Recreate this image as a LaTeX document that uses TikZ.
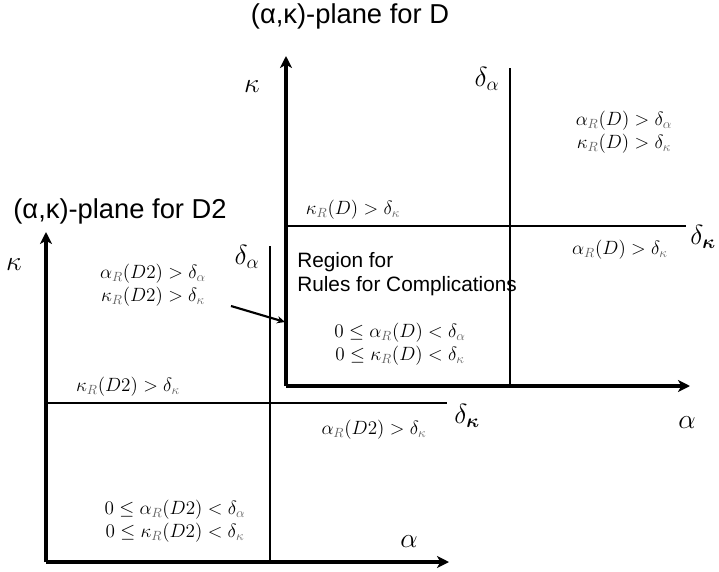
\documentclass[tikz,border=0pt]{standalone}
\usepackage[no-math]{fontspec}
\setmainfont{Liberation Sans}
\usepackage{amsmath,bm}
\usetikzlibrary{arrows.meta}
\newcommand{\gsub}[1]{\textcolor{black!60}{#1}}
\begin{document}
\begin{tikzpicture}[x=0.75pt,y=-0.75pt,
  axis/.style={line width=2.6pt,-{Stealth[length=9pt,width=9pt,inset=2.5pt]}},
  thr/.style={line width=1.7pt},
  ttl/.style={font=\fontsize{20.5}{24}\selectfont,inner sep=0pt},
  big/.style={font=\fontsize{21}{24}\selectfont,inner sep=0pt},
  lab/.style={font=\fontsize{14.3}{17}\selectfont,inner sep=0pt,align=center},
  sans/.style={font=\fontsize{15.6}{18}\selectfont,inner sep=0pt,align=left}]
\useasboundingbox (0,0) rectangle (719,572);
% plane D
\coordinate (Do) at (286,386);
\coordinate (Dy) at (286,56);
\coordinate (Dx) at (690,386);
\coordinate (Dat) at (510,68);
\coordinate (Dab) at (510,386);
\coordinate (Dkl) at (286,226);
\coordinate (Dkr) at (686,226);
\draw[thr] (Dat) -- (Dab);
\draw[thr] (Dkl) -- (Dkr);
\draw[axis] (Do) -- (Dy);
\draw[axis] (Do) -- (Dx);
% plane D2
\coordinate (Eo) at (46,562);
\coordinate (Ey) at (46,232);
\coordinate (Ex) at (449,562);
\coordinate (Eat) at (270,246);
\coordinate (Eab) at (270,562);
\coordinate (Ekl) at (46,403);
\coordinate (Ekr) at (447,403);
\draw[thr] (Eat) -- (Eab);
\draw[thr] (Ekl) -- (Ekr);
\draw[axis] (Eo) -- (Ey);
\draw[axis] (Eo) -- (Ex);
% texts plane D
\node[ttl] (tD) at (350,16) {(α,κ)-plane for D};
\node[big] (kD) at (252,87) {$\kappa$};
\node[big] (daD) at (487,79) {$\delta_\alpha$};
\node[lab] (q1) at (624,132) {$\alpha_{\gsub{R}}(D) > \delta_{\gsub{\alpha}}$\\$\kappa_{\gsub{R}}(D) > \delta_{\gsub{\kappa}}$};
\node[lab] (q2) at (353,210) {$\kappa_{\gsub{R}}(D) > \delta_{\gsub{\kappa}}$};
\node[big] (dkD) at (703,237) {$\delta_{\bm{\kappa}}$};
\node[lab] (q3) at (620,250) {$\alpha_{\gsub{R}}(D) > \delta_{\gsub{\kappa}}$};
\node[sans,anchor=west] (reg) at (297,274) {Region for\\Rules for Complications};
\node[lab] (q4) at (400,344) {$0 \le \alpha_{\gsub{R}}(D) < \delta_{\gsub{\alpha}}$\\$0 \le \kappa_{\gsub{R}}(D) < \delta_{\gsub{\kappa}}$};
\node[big] (aD) at (687,423) {$\alpha$};
% texts plane D2
\node[ttl] (tE) at (120,211) {(α,κ)-plane for D2};
\node[big] (kE) at (14,265) {$\kappa$};
\node[big] (daE) at (247,257) {$\delta_\alpha$};
\node[lab] (p1) at (153,285) {$\alpha_{\gsub{R}}(D2) > \delta_{\gsub{\alpha}}$\\$\kappa_{\gsub{R}}(D2) > \delta_{\gsub{\kappa}}$};
\node[lab] (p2) at (128,387) {$\kappa_{\gsub{R}}(D2) > \delta_{\gsub{\kappa}}$};
\node[big] (dkE) at (467,416) {$\delta_{\bm{\kappa}}$};
\node[lab] (p3) at (374,430) {$\alpha_{\gsub{R}}(D2) > \delta_{\gsub{\kappa}}$};
\node[lab] (p4) at (175,521) {$0 \le \alpha_{\gsub{R}}(D2) < \delta_{\gsub{\alpha}}$\\$0 \le \kappa_{\gsub{R}}(D2) < \delta_{\gsub{\kappa}}$};
\node[big] (aE) at (409,542) {$\alpha$};
% pointer
\coordinate (ps) at (231,306);
\coordinate (pe) at (285,322);
\draw[line width=1.6pt,-{Stealth[length=6pt,width=5.5pt]}] (ps) -- (pe);
\end{tikzpicture}
\end{document}
